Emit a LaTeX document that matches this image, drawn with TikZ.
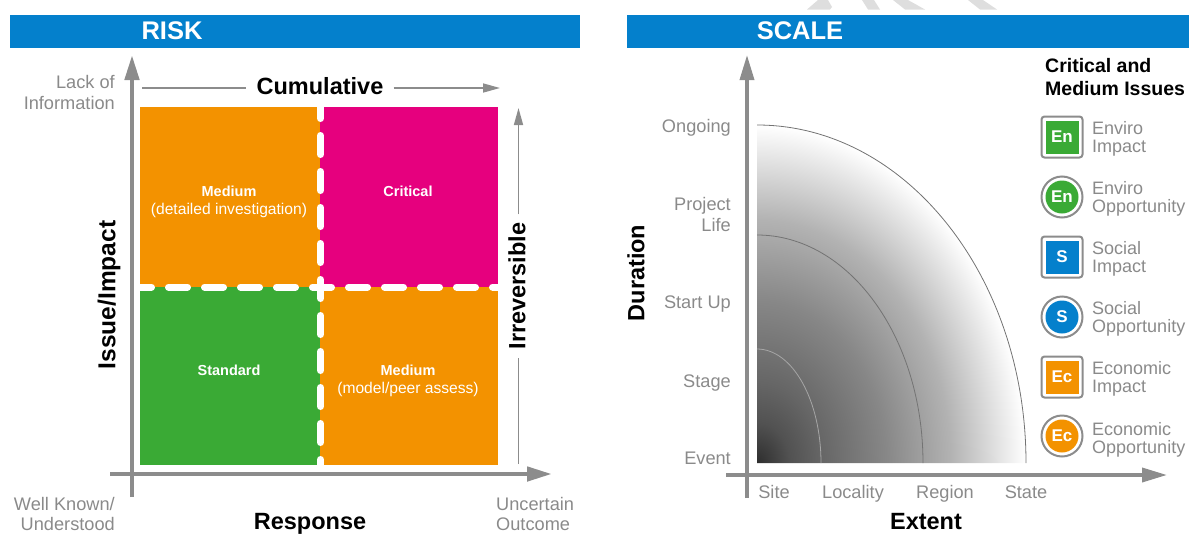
\documentclass[tikz,border=0pt]{standalone}
\usepackage{fontspec}
\setmainfont{Liberation Sans}
\usetikzlibrary{arrows.meta}
\definecolor{headblue}{HTML}{0480CC}
\definecolor{axisgray}{HTML}{8C8C8C}
\definecolor{labelgray}{HTML}{8A8A8A}
\definecolor{markgray}{HTML}{DEDEDE}
\definecolor{riskorange}{HTML}{F39200}
\definecolor{riskpink}{HTML}{E6007E}
\definecolor{riskgreen}{HTML}{3AAA35}
\pgfdeclareradialshading{scalefade}{\pgfpoint{0bp}{0bp}}{%
  color(0bp)=(black!82); color(3bp)=(black!68); color(6bp)=(black!60);
  color(12bp)=(black!47); color(18bp)=(black!30); color(25bp)=(white); color(50bp)=(white)}
\tikzset{
  headtext/.style={text=white,font=\fontsize{25.5}{28}\selectfont\bfseries,inner sep=0pt},
  axistitle/.style={text=black,font=\fontsize{23.5}{26}\selectfont\bfseries,inner sep=0pt},
  graylabel/.style={text=labelgray,font=\fontsize{18.2}{21}\selectfont,inner sep=0pt},
  celltext/.style={text=white,font=\fontsize{14.5}{19}\selectfont\bfseries,inner sep=0pt},
  cellsub/.style={text=white,font=\fontsize{15.6}{19}\selectfont,inner sep=0pt},
  bigaxis/.style={draw=axisgray,line width=4.6pt,-{Triangle[length=25pt,width=14pt]}},
  thinaxis/.style={draw=axisgray,line width=1.6pt,-{Triangle[length=17pt,width=9pt]}},
  plainaxis/.style={draw=axisgray,line width=1.6pt},
  celldash/.style={draw=white,line width=7pt,line cap=round,dash pattern=on 19pt off 17pt},
  legendtitle/.style={text=black,font=\fontsize{19.5}{23}\selectfont\bfseries,inner sep=0pt,align=left},
  legendtext/.style={text=labelgray,font=\fontsize{18}{18}\selectfont,inner sep=0pt,align=left,anchor=west},
  sqframe/.style={draw=axisgray,line width=2pt,fill=white,rounded corners=3pt,minimum size=41pt,inner sep=0pt},
  sqicon/.style={text=white,font=\fontsize{17}{17}\selectfont\bfseries,minimum size=33pt,inner sep=0pt},
  ciframe/.style={circle,draw=axisgray,line width=2pt,fill=white,minimum size=41pt,inner sep=0pt},
  ciicon/.style={circle,text=white,font=\fontsize{17}{17}\selectfont\bfseries,minimum size=33pt,inner sep=0pt},
}
\begin{document}
\begin{tikzpicture}[x=1pt, y=-1pt]
  \useasboundingbox (0,0) rectangle (1189,533);
  % marks above the header
  \fill[markgray] (807,9.5) -- (818,0) -- (828,0) -- (832,7) -- (830,9.5) -- cycle;
  \fill[markgray] (862,0) -- (874,0) -- (880,9.5) -- (868,9.5) -- cycle;
  \fill[markgray] (893,0) -- (908,0) -- (925,9.5) -- (905,9.5) -- cycle;
  \fill[markgray] (968,0) -- (983,0) -- (997,9.5) -- (980,9.5) -- cycle;
  % headers
  \fill[headblue] (10,15) rectangle (580,48);
  \fill[headblue] (627,15) rectangle (1189,48);
  \node[headtext] (riskhead) at (172,30.5) {RISK};
  \node[headtext] (scalehead) at (800,30.5) {SCALE};

  % risk matrix
  \fill[riskorange] (140,107) rectangle (320,287);
  \fill[riskpink] (320,107) rectangle (498,287);
  \fill[riskgreen] (140,287) rectangle (320,465);
  \fill[riskorange] (320,287) rectangle (498,465);
  \coordinate (dashleft) at (132.5,287); \coordinate (dashright) at (498,287);
  \coordinate (dashtop) at (320.5,99.5); \coordinate (dashbottom) at (320.5,465);
  \begin{scope}
    \clip (140,107) rectangle (498,465);
    \draw[celldash] (dashleft) -- (dashright);
    \draw[celldash] (dashtop) -- (dashbottom);
  \end{scope}
  \node[celltext] (medtop) at (229,191) {Medium};
  \node[cellsub] (medtopsub) at (229,210) {(detailed investigation)};
  \node[celltext] (crit) at (408,191) {Critical};
  \node[celltext] (stand) at (229,370) {Standard};
  \node[celltext] (medlow) at (408,370) {Medium};
  \node[cellsub] (medlowsub) at (408,389) {(model/peer assess)};

  % risk axes
  \coordinate (riskytop) at (132,55); \coordinate (riskybot) at (132,497);
  \coordinate (riskxleft) at (110,474); \coordinate (riskxright) at (552,474);
  \draw[bigaxis] (riskybot) -- (riskytop);
  \draw[bigaxis] (riskxleft) -- (riskxright);
  \node[axistitle,inner xsep=10pt] (cumul) at (320,86) {Cumulative};
  \coordinate (cumulstart) at (142,88); \coordinate (cumulend) at (500,88);
  \draw[plainaxis] (cumulstart) -- (cumulstart -| cumul.west);
  \draw[thinaxis] (cumulend -| cumul.east) -- (cumulend);
  \node[axistitle,rotate=90,inner xsep=8pt] (irrev) at (517,286) {Irreversible};
  \coordinate (irrevtop) at (518.5,108); \coordinate (irrevbot) at (518.5,464);
  \draw[thinaxis] (irrevtop |- irrev.east) -- (irrevtop);
  \draw[plainaxis] (irrevbot) -- (irrevbot |- irrev.west);
  \node[axistitle,rotate=90,font=\fontsize{24.5}{26}\selectfont\bfseries] (issue) at (109,295) {Issue/Impact};
  \node[axistitle] (resp) at (310,524) {Response};
  \node[graylabel,align=right,anchor=north east] (lack) at (115,75.5) {Lack of\\Information};
  \node[graylabel,align=right,anchor=north east] (known) at (115,497.5) {Well Known/\\[-1.5pt]Understood};
  \node[graylabel,align=left,anchor=north west] (uncert) at (496,497.5) {Uncertain\\[-1.5pt]Outcome};

  % scale fade
  \begin{scope}
    \clip (757,463) -- (1026,463) arc[start angle=0,end angle=90,x radius=269pt,y radius=338pt] -- cycle;
    \shade[shading=scalefade] (488,125) rectangle (1026,801);
  \end{scope}
  \draw[draw=black!55,line width=0.8pt] (1026,463) arc[start angle=0,end angle=90,x radius=269pt,y radius=338pt];
  \draw[draw=black!55,line width=0.8pt] (923,463) arc[start angle=0,end angle=90,x radius=166pt,y radius=228pt];
  \draw[draw=black!35,line width=0.8pt] (821,463) arc[start angle=0,end angle=90,x radius=64pt,y radius=114pt];

  % scale axes
  \coordinate (scaleytop) at (747,55); \coordinate (scaleybot) at (747,498);
  \coordinate (scalexleft) at (726,475); \coordinate (scalexright) at (1167,475);
  \draw[bigaxis,line width=3.6pt] (scaleybot) -- (scaleytop);
  \draw[bigaxis,line width=3.6pt] (scalexleft) -- (scalexright);
  \node[axistitle,rotate=90] (durat) at (636,273) {Duration};
  \node[axistitle] (extent) at (926,522) {Extent};
  \node[graylabel,anchor=base east] (ongo) at (731,132.5) {Ongoing};
  \node[graylabel,anchor=east,align=right] (proj) at (731,214) {Project\\Life};
  \node[graylabel,anchor=base east] (start) at (731,308.5) {Start Up};
  \node[graylabel,anchor=base east] (stage) at (731,387.5) {Stage};
  \node[graylabel,anchor=base east] (event) at (731,464.5) {Event};
  \node[graylabel,anchor=base] (site) at (774,498) {Site};
  \node[graylabel,anchor=base] (local) at (853,498) {Locality};
  \node[graylabel,anchor=base] (region) at (945,498) {Region};
  \node[graylabel,anchor=base] (state) at (1026,498) {State};

  % legend
  \node[legendtitle,anchor=west] (legtitle) at (1045,77) {Critical and\\Medium Issues};
  \node[sqframe] (envimpframe) at (1062,137) {};
  \node[sqicon,fill=riskgreen] (envimp) at (1062,137) {En};
  \node[legendtext] (envimptext) at (1092,139) {Enviro\\Impact};
  \node[ciframe] (envoppframe) at (1062,197) {};
  \node[ciicon,fill=riskgreen] (envopp) at (1062,197) {En};
  \node[legendtext] (envopptext) at (1092,199) {Enviro\\Opportunity};
  \node[sqframe] (socimpframe) at (1062,257) {};
  \node[sqicon,fill=headblue] (socimp) at (1062,257) {S};
  \node[legendtext] (socimptext) at (1092,259) {Social\\Impact};
  \node[ciframe] (socoppframe) at (1062,317) {};
  \node[ciicon,fill=headblue] (socopp) at (1062,317) {S};
  \node[legendtext] (socopptext) at (1092,319) {Social\\Opportunity};
  \node[sqframe] (ecoimpframe) at (1062,377) {};
  \node[sqicon,fill=riskorange] (ecoimp) at (1062,377) {Ec};
  \node[legendtext] (ecoimptext) at (1092,379) {Economic\\Impact};
  \node[ciframe] (ecooppframe) at (1062,436) {};
  \node[ciicon,fill=riskorange] (ecoopp) at (1062,436) {Ec};
  \node[legendtext] (ecoopptext) at (1092,440) {Economic\\Opportunity};
\end{tikzpicture}
\end{document}
